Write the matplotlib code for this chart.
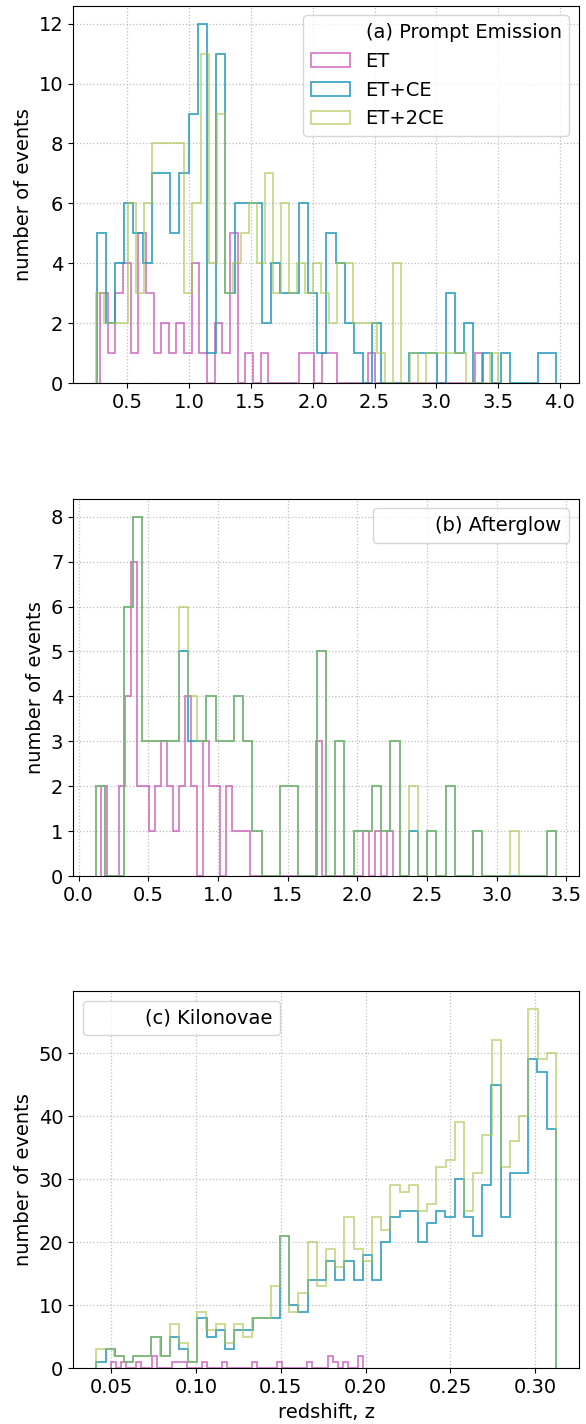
import matplotlib.pyplot as plt
import numpy as np
from matplotlib.ticker import MultipleLocator

labels = ['ET', 'ET+CE', 'ET+2CE']
colors = ['#c448b2', '#1f98be', '#a7c54b']
alphas = [0.7, 0.85, 0.63]

# (a) Prompt Emission: counts per bin and redshift range of each sample
a_et = [3, 1, 3, 4, 1, 5, 3, 1, 2, 1, 2, 1, 4, 1, 0, 2, 1, 5, 0, 1,
        0, 1, 0, 0, 0, 0, 1, 1, 0, 1, 1, 0, 0, 0, 0, 1, 0, 0, 0, 0,
        0, 0, 0, 0, 0, 0, 0, 0, 0, 1]
a_ce = [5, 2, 4, 6, 5, 4, 7, 7, 5, 7, 9, 12, 1, 11, 3, 6, 6, 6, 2, 4,
        3, 3, 6, 3, 1, 5, 4, 2, 1, 0, 2, 0, 0, 0, 1, 1, 1, 0, 3, 1,
        2, 0, 1, 0, 1, 0, 0, 0, 1, 1]
a_2ce = [3, 2, 2, 2, 6, 3, 6, 8, 8, 8, 8, 3, 6, 11, 4, 9, 3, 4, 5, 6,
         4, 7, 3, 6, 3, 4, 3, 4, 3, 2, 4, 4, 2, 2, 2, 1, 0, 4, 0, 1,
         0, 1, 1, 1, 1, 1, 0, 0, 0, 1]
a_z = [(0.2795, 3.371), (0.2528, 3.968), (0.2472, 3.498)]

# (b) Afterglow
b_et = [2, 0, 0, 2, 4, 7, 2, 2, 1, 2, 3, 2, 1, 2, 4, 2, 0, 3, 2, 2,
        0, 2, 1, 1, 1, 0, 0, 0, 0, 0, 0, 0, 0, 0, 0, 0, 3, 0, 0, 0,
        0, 0, 0, 0, 1, 0, 1, 0, 1]
b_ce = [2, 0, 0, 6, 8, 3, 3, 3, 3, 5, 3, 3, 4, 3, 3, 4, 3, 1, 0, 0,
        2, 2, 0, 0, 5, 0, 3, 0, 1, 1, 2, 1, 3, 0, 1, 0, 1, 0, 2, 0,
        0, 1, 0, 0, 0, 0, 0, 0, 0, 1]
b_2ce = [2, 0, 0, 6, 8, 3, 3, 3, 3, 6, 4, 3, 4, 3, 3, 4, 3, 1, 0, 0,
         2, 2, 0, 0, 5, 0, 3, 0, 1, 1, 2, 1, 3, 0, 2, 0, 1, 0, 2, 0,
         0, 1, 0, 0, 0, 1, 0, 0, 0, 1]
b_z = [(0.163, 2.257), (0.125, 3.425), (0.125, 3.425)]

# (c) Kilonovae
c_et = [1, 0, 1, 0, 0, 1, 0, 0, 2, 0, 0, 0, 1, 1, 1, 0, 0, 0, 1, 0,
        0, 0, 1, 0, 0, 0, 0, 0, 1, 0, 0, 0, 0, 1, 0, 0, 0, 0, 0, 1,
        0, 0, 0, 2, 1, 0, 1, 0, 0, 2]
c_ce = [1, 3, 2, 1, 2, 2, 5, 2, 5, 3, 1, 8, 5, 6, 3, 6, 6, 8, 8, 8,
        21, 10, 9, 14, 14, 17, 14, 17, 14, 18, 14, 20, 24, 25, 25, 20, 23, 25, 24, 30,
        24, 21, 29, 45, 24, 31, 31, 49, 47, 38]
c_2ce = [3, 3, 2, 1, 2, 2, 5, 2, 7, 4, 1, 9, 6, 7, 4, 7, 5, 8, 8, 13,
         21, 9, 12, 20, 13, 19, 16, 24, 19, 17, 24, 22, 29, 28, 29, 25, 26, 32, 33, 39,
         25, 31, 37, 52, 32, 36, 40, 57, 49, 50]
c_z = [(0.05, 0.1984), (0.0412, 0.3122), (0.0410, 0.3124)]

panels = [
    ('(a) Prompt Emission', [a_et, a_ce, a_2ce], a_z, 'upper right', True),
    ('(b) Afterglow', [b_et, b_ce, b_2ce], b_z, 'upper right', False),
    ('(c) Kilonovae', [c_et, c_ce, c_2ce], c_z, 'upper left', False),
]


def stephist(ax, counts, zr, color, alpha, label):
    edges = np.linspace(zr[0], zr[1], len(counts) + 1)
    mids = 0.5 * (edges[:-1] + edges[1:])
    _, _, p = ax.hist(mids, bins=edges, weights=counts, histtype='step',
                      color=color, alpha=alpha, lw=1.3, label=label)
    return p[0]


fig = plt.figure(figsize=(5.86, 14.24), dpi=100)
bottoms = [0.731, 0.3848, 0.0391]
axes = []

for (title, data, zr, loc, full), bot in zip(panels, bottoms):
    ax = fig.add_axes([0.1246, bot, 0.8635, 0.265])
    hs = []
    for counts, r, col, al, lab in zip(data, zr, colors, alphas, labels):
        hs.append(stephist(ax, counts, r, col, al, lab))
    blank = plt.Line2D([], [], ls='', label=title)
    handles = [blank] + hs if full else [blank]
    ax.legend(handles=handles, loc=loc, fontsize=14)
    ax.grid(True, linestyle=':', color='0.75', lw=0.9)
    ax.set_axisbelow(True)
    ax.tick_params(labelsize=14)
    ax.set_ylabel('number of events', fontsize=14)
    axes.append(ax)

axes[0].xaxis.set_major_locator(MultipleLocator(0.5))
axes[2].set_xlabel('redshift, z', fontsize=14)

fig.savefig('out.png', dpi=100)
